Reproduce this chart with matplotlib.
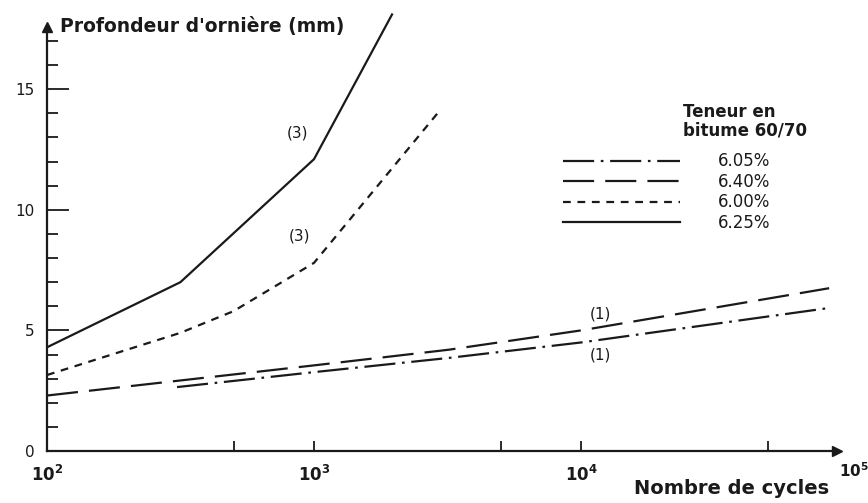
import matplotlib
matplotlib.use("Agg")
import matplotlib.pyplot as plt
from matplotlib.ticker import FixedLocator, NullFormatter

plt.rcParams['font.family'] = ['DejaVu Sans']
plt.rcParams['mathtext.fontset'] = 'dejavusans'

# --- data ---
cycles_605 = [307, 1000, 3200, 10000, 85000]
rut_605 = [2.65, 3.27, 3.86, 4.5, 5.93]

cycles_640 = [100, 1000, 3200, 10000, 85000]
rut_640 = [2.3, 3.55, 4.2, 5.0, 6.75]

cycles_600 = [100, 316, 500, 1000, 2900]
rut_600 = [3.15, 4.9, 5.8, 7.8, 14.0]

cycles_625 = [100, 316, 1000, 1960]
rut_625 = [4.3, 7.0, 12.1, 18.1]

series_labels = ['6.05%', '6.40%', '6.00%', '6.25%']
y_major = [0, 5, 10, 15]
y_minor = [1, 2, 3, 4, 6, 7, 8, 9, 11, 12, 13, 14, 16, 17]
x_major = [1e2, 1e3, 1e4]
x_major_labels = [r'$\mathbf{10^2}$', r'$\mathbf{10^3}$', r'$\mathbf{10^4}$']
x_minor = [500, 5000, 50000]

# curve annotations: (text, x, y)
curve_notes = [('(3)', 870, 13.2), ('(3)', 880, 8.9),
               ('(1)', 11800, 5.7), ('(1)', 11800, 4.0)]

ink = '#1a1a1a'

fig = plt.figure(figsize=(8.68, 5.03), dpi=100)
ax = fig.add_axes([47 / 868, 52 / 503, 801 / 868, 451 / 503])
ax.set_xscale('log')
ax.set_xlim(100, 1e5)
ax.set_ylim(0, 18.7)

lw = 1.6
ax.plot(cycles_605, rut_605, color=ink, lw=lw, linestyle=(0, (14, 3, 1.2, 3)), label=series_labels[0])
ax.plot(cycles_640, rut_640, color=ink, lw=lw, linestyle=(0, (14, 5)), label=series_labels[1])
ax.plot(cycles_600, rut_600, color=ink, lw=lw, linestyle=(0, (3.5, 3)), label=series_labels[2])
ax.plot(cycles_625, rut_625, color=ink, lw=lw, linestyle='-', label=series_labels[3])

for txt, cx, cy in curve_notes:
    ax.text(cx, cy, txt, fontsize=11, ha='center', va='center', color=ink)

# axes drawn like the hand-made figure: left/bottom spines with arrows
for side in ['top', 'right']:
    ax.spines[side].set_visible(False)
ax.spines['left'].set_bounds(0, 17.6)
ax.spines['bottom'].set_bounds(100, 9.1e4)
ax.spines['left'].set_linewidth(1.6)
ax.spines['bottom'].set_linewidth(1.6)
ax.spines['left'].set_color(ink)
ax.spines['bottom'].set_color(ink)
ax.plot([100], [17.6], marker='^', color=ink, markersize=7, clip_on=False)
ax.plot([9.1e4], [0], marker='>', color=ink, markersize=7, clip_on=False)

ax.yaxis.set_major_locator(FixedLocator(y_major))
ax.yaxis.set_minor_locator(FixedLocator(y_minor))
ax.set_yticklabels([str(v) for v in y_major])
ax.tick_params(axis='y', which='major', direction='in', length=16, width=1.3, pad=9,
               labelsize=11, colors=ink)
ax.tick_params(axis='y', which='minor', direction='in', length=8, width=1.3, colors=ink)

ax.xaxis.set_major_locator(FixedLocator(x_major))
ax.xaxis.set_minor_locator(FixedLocator(x_minor))
ax.xaxis.set_minor_formatter(NullFormatter())
ax.set_xticklabels(x_major_labels)
ax.tick_params(axis='x', which='both', direction='in', length=7, width=1.3, pad=10,
               labelsize=12, colors=ink)
ax.text(1.05e5, -0.8, r'$\mathbf{10^5}$', fontsize=11, ha='center', va='center', color=ink,
        clip_on=False)

ax.text(100, 17.6, "  Profondeur d'ornière (mm)", fontsize=13.5, fontweight='bold',
        ha='left', va='center', color=ink)
ax.set_xlabel('Nombre de cycles', fontsize=14, fontweight='bold', color=ink,
              ha='right', va='center')
ax.xaxis.set_label_coords(0.977, -0.084)

leg = ax.legend(loc='upper left', bbox_to_anchor=(0.644, 0.662), frameon=False,
                fontsize=12, handlelength=7.0, handletextpad=2.3, labelspacing=0.15,
                borderpad=0, borderaxespad=0)
for t in leg.get_texts():
    t.set_color(ink)
ax.text(0.794, 0.732, 'Teneur en\nbitume 60/70', transform=ax.transAxes, fontsize=12,
        fontweight='bold', ha='left', va='center', color=ink, linespacing=1.05)

fig.savefig('out.png', dpi=100, facecolor='white')
